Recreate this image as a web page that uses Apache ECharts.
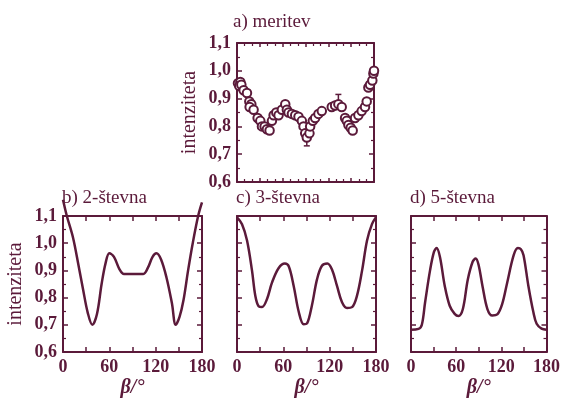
<!DOCTYPE html>
<html>
<head>
<meta charset="utf-8">
<script src="https://cdn.jsdelivr.net/npm/echarts@6/dist/echarts.min.js"></script>
<style>
html,body{margin:0;padding:0;background:#fff;}
#chart{width:563px;height:399px;}
</style>
</head>
<body>
<div id="chart"></div>
<script>
// ---- data ----
const panelTitles = ['a) meritev', 'b) 2-števna', 'c) 3-števna', 'd) 5-števna'];
const yTickValues = [0.6, 0.7, 0.8, 0.9, 1.0, 1.1];
const xTickLabels = [0, 60, 120, 180];

// a) measurement
const measBeta = [1.3, 4.4, 3.0, 5.7, 8.7, 13.1, 16.2, 18.8, 16.6, 21.8, 27.1, 30.6, 32.8, 36.3, 39.3, 42.8, 45.9, 48.1, 51.6, 54.6, 59.0, 63.4, 65.5, 67.7, 72.1, 76.5, 80.8, 85.2, 87.4, 89.6, 91.7, 95.2, 96.1, 99.6, 102.7, 107.0, 111.4, 124.5, 128.9, 133.2, 137.6, 142.0, 144.2, 146.4, 149.4, 152.0, 155.1, 159.5, 163.8, 168.2, 170.4, 172.6, 174.8, 177.8, 179.2, 180.0];
const measInt  = [0.955, 0.96, 0.945, 0.95, 0.93, 0.92, 0.89, 0.88, 0.87, 0.86, 0.83, 0.82, 0.80, 0.80, 0.79, 0.785, 0.82, 0.84, 0.85, 0.84, 0.86, 0.88, 0.86, 0.85, 0.845, 0.84, 0.835, 0.82, 0.80, 0.775, 0.76, 0.775, 0.80, 0.82, 0.83, 0.845, 0.855, 0.87, 0.875, 0.88, 0.87, 0.83, 0.82, 0.805, 0.795, 0.785, 0.83, 0.84, 0.855, 0.87, 0.89, 0.94, 0.95, 0.965, 0.99, 1.0];
const errBeta = [91.7, 133.2];
const errLow  = [0.73, 0.88];
const errHigh = [0.79, 0.915];

// b) 2-fold
const b2Beta = [0, 5, 13, 20, 26, 32, 38, 44, 50, 55, 60, 66, 73, 79, 104, 110, 116, 121, 127, 134, 141, 146, 151, 156, 162, 168, 175, 180];
const b2Int  = [1.16, 1.10, 1.02, 0.92, 0.83, 0.745, 0.70, 0.74, 0.85, 0.925, 0.963, 0.95, 0.905, 0.887, 0.887, 0.91, 0.95, 0.963, 0.94, 0.874, 0.78, 0.70, 0.73, 0.79, 0.90, 1.00, 1.10, 1.15];

// c) 3-fold
const c3Beta = [0, 6.5, 13, 19.4, 23.7, 28, 32.4, 38.9, 45.3, 54, 62, 67, 73.4, 80, 86.3, 90.7, 97, 103.6, 110, 117, 123, 129.5, 136, 142.5, 149, 155.4, 162, 168.4, 174.8, 180];
const c3Int  = [1.095, 1.07, 1.01, 0.90, 0.807, 0.768, 0.765, 0.795, 0.855, 0.909, 0.925, 0.915, 0.843, 0.747, 0.702, 0.705, 0.771, 0.867, 0.917, 0.925, 0.903, 0.843, 0.783, 0.762, 0.765, 0.807, 0.90, 1.01, 1.07, 1.096];

// d) 5-fold
const d5Beta = [0, 10, 14.4, 18.7, 25.3, 30.5, 34, 38.4, 44.9, 51.4, 58, 63, 68.9, 75.4, 81.9, 86, 89.8, 95, 101.5, 108, 114.6, 121.1, 127.7, 136.4, 142, 146, 149.5, 156, 162.6, 166.9, 173.5, 180];
const d5Int  = [0.682, 0.685, 0.70, 0.782, 0.90, 0.968, 0.982, 0.95, 0.842, 0.77, 0.74, 0.732, 0.758, 0.866, 0.932, 0.944, 0.92, 0.842, 0.758, 0.734, 0.738, 0.776, 0.854, 0.956, 0.982, 0.978, 0.956, 0.842, 0.746, 0.704, 0.686, 0.682];

// ---- chart ----
const C = '#5b1a3a';
const FONT = 'Liberation Serif';
const grids = [
  {left: 237, top: 43, width: 137, height: 139},
  {left: 63, top: 216, width: 139, height: 138},
  {left: 237, top: 216, width: 139, height: 138},
  {left: 411, top: 216, width: 138, height: 138}
];
const zip = (xs, ys) => xs.map((x, i) => [x, ys[i]]);
const lineStyle = {color: C, width: 2};
const xAxes = [], yAxes = [];
grids.forEach((g, i) => {
  const isA = i === 0;
  const baseX = {
    type: 'value', gridIndex: i, min: 0, max: 180, interval: 30,
    axisLine: {show: true, onZero: false, lineStyle: lineStyle},
    axisTick: {show: true, inside: true, length: isA ? 4 : 5, lineStyle: {color: C, width: 1.5}},
    minorTick: {show: isA, splitNumber: 3, length: 3, lineStyle: {color: C, width: 1.2}},
    splitLine: {show: false}
  };
  xAxes.push(Object.assign({}, baseX, {
    position: 'bottom',
    name: isA ? '' : 'β/°', nameLocation: 'middle', nameGap: 26,
    nameTextStyle: {fontFamily: FONT, fontSize: 20, fontStyle: 'italic', fontWeight: 'bold', color: C},
    axisLabel: {show: !isA, margin: 6, fontFamily: FONT, fontSize: 18, fontWeight: 'bold', color: C,
      formatter: v => xTickLabels.indexOf(v) >= 0 ? String(v) : ''}
  }));
  xAxes.push(Object.assign({}, baseX, {position: 'top', axisLabel: {show: false}}));
  const baseY = {
    type: 'value', gridIndex: i, min: yTickValues[0], max: yTickValues[yTickValues.length - 1], interval: 0.1,
    axisLine: {show: true, onZero: false, lineStyle: lineStyle},
    axisTick: {show: true, inside: true, length: 5, lineStyle: {color: C, width: 1.5}},
    minorTick: {show: true, splitNumber: 2, length: 3, lineStyle: {color: C, width: 1.2}},
    splitLine: {show: false}
  };
  yAxes.push(Object.assign({}, baseY, {
    position: 'left',
    name: (i <= 1) ? 'intenziteta' : '', nameLocation: 'middle', nameGap: 37,
    nameTextStyle: {fontFamily: FONT, fontSize: 20, color: C},
    axisLabel: {show: i <= 1, margin: 6, fontFamily: FONT, fontSize: 18, fontWeight: 'bold', color: C,
      formatter: v => v.toFixed(1).replace('.', ',')}
  }));
  yAxes.push(Object.assign({}, baseY, {position: 'right', axisLabel: {show: false}}));
});

const titles = [
  {text: panelTitles[0], left: 233, top: 13},
  {text: panelTitles[1], left: 62, top: 189},
  {text: panelTitles[2], left: 236, top: 189},
  {text: panelTitles[3], left: 410, top: 189}
].map(t => Object.assign(t, {padding: 0, textStyle: {fontFamily: FONT, fontSize: 19, fontWeight: 'normal', color: C}}));

const curve = (gi, xs, ys) => ({
  type: 'line', xAxisIndex: gi * 2, yAxisIndex: gi * 2, data: zip(xs, ys),
  showSymbol: false, smooth: 0.35, clip: false,
  lineStyle: {color: C, width: 2.5}, silent: true, animation: false
});

const option = {
  backgroundColor: '#fff',
  animation: false,
  title: titles,
  grid: grids,
  xAxis: xAxes,
  yAxis: yAxes,
  series: [
    {
      type: 'custom', xAxisIndex: 0, yAxisIndex: 0,
      data: errBeta.map((x, i) => [x, errLow[i], errHigh[i]]),
      renderItem: (params, api) => {
        const lo = api.coord([api.value(0), api.value(1)]);
        const hi = api.coord([api.value(0), api.value(2)]);
        const w = 3;
        const st = {stroke: C, lineWidth: 1.5};
        return {type: 'group', children: [
          {type: 'line', shape: {x1: lo[0], y1: lo[1], x2: hi[0], y2: hi[1]}, style: st},
          {type: 'line', shape: {x1: lo[0] - w, y1: lo[1], x2: lo[0] + w, y2: lo[1]}, style: st},
          {type: 'line', shape: {x1: hi[0] - w, y1: hi[1], x2: hi[0] + w, y2: hi[1]}, style: st}
        ]};
      }
    },
    {
      type: 'scatter', xAxisIndex: 0, yAxisIndex: 0, data: zip(measBeta, measInt),
      symbol: 'circle', symbolSize: 8.5, clip: false,
      itemStyle: {color: '#ffffff', borderColor: C, borderWidth: 2, opacity: 1}
    },
    curve(1, b2Beta, b2Int),
    curve(2, c3Beta, c3Int),
    curve(3, d5Beta, d5Int)
  ]
};
const chart = echarts.init(document.getElementById('chart'), null, {renderer: 'canvas'});
chart.setOption(option);
</script>
</body>
</html>
